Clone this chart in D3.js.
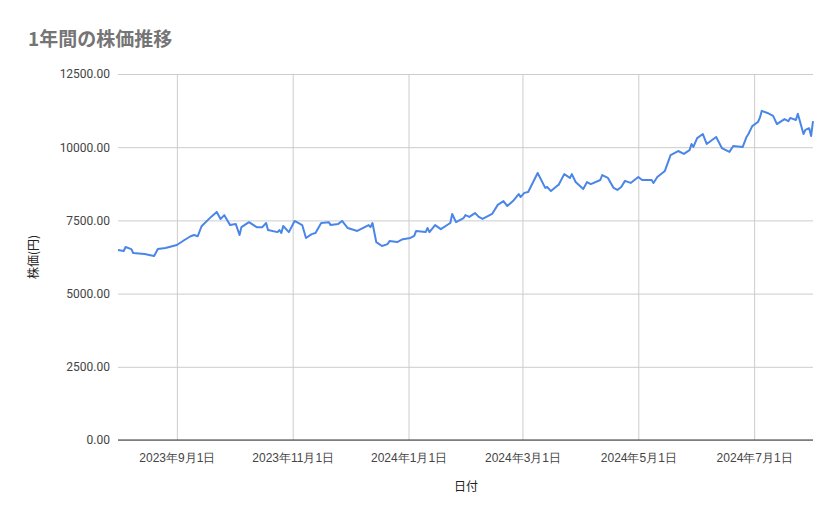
<!DOCTYPE html>
<html><head><meta charset="utf-8">
<script src="https://cdn.jsdelivr.net/npm/d3@7"></script>
<style>body{margin:0;background:#fff;font-family:"Noto Sans CJK JP","Noto Sans",sans-serif}</style>
</head><body><svg id="c" width="839" height="519"></svg>
<script>
const startDate = "2023-08-01";
const endDate = "2024-08-01";
const dayOffsets = [0,3,4,7,8,14,19,21,25,31,35,38,40,42,44,49,52,54,56,59,62,64,65,69,73,76,78,79,84,85,86,87,90,93,97,99,102,104,107,111,112,116,118,121,126,132,133,134,136,139,142,143,147,150,154,156,157,162,163,164,167,170,175,176,178,182,183,185,188,190,192,197,200,203,205,208,211,212,214,216,221,225,226,228,231,232,235,238,239,241,245,247,249,254,255,258,261,263,265,267,270,274,276,281,282,284,288,291,295,298,301,302,303,305,308,310,315,318,322,324,329,331,332,334,337,338,339,342,345,347,351,353,354,357,358,361,362,364,365,366];
const prices = [6490,6455,6590,6520,6385,6350,6285,6520,6560,6660,6830,6950,7000,6960,7300,7620,7790,7550,7680,7340,7380,7000,7270,7440,7270,7270,7410,7170,7100,7170,7070,7310,7100,7480,7340,6900,7030,7070,7410,7440,7340,7380,7480,7240,7140,7340,7270,7410,6760,6625,6690,6800,6760,6860,6900,6970,7140,7100,7240,7100,7340,7200,7410,7720,7440,7580,7680,7620,7750,7620,7550,7720,8030,8160,7990,8160,8400,8300,8440,8470,9120,8610,8640,8500,8670,8710,9080,8950,9080,8810,8570,8810,8740,8880,9050,8950,8610,8540,8640,8850,8780,8980,8880,8880,8780,8980,9190,9730,9870,9770,9900,10110,10010,10310,10450,10110,10350,9970,9840,10040,10010,10350,10450,10720,10860,11000,11240,11170,11070,10790,10960,10890,11000,10930,11140,10450,10590,10650,10380,10890];
const yTicks = [0,2500,5000,7500,10000,12500];
const xTickDates = ["2023-09-01","2023-11-01","2024-01-01","2024-03-01","2024-05-01","2024-07-01"];

const svg = d3.select("#c");
const L=118,R=813,T=74,B=440;
const parse = d3.timeParse("%Y-%m-%d");
const s0 = parse(startDate);
const data = dayOffsets.map((d,i)=>({date:d3.timeDay.offset(s0,d),v:prices[i]}));
const x = d3.scaleTime().domain([s0,parse(endDate)]).range([L,R]);
const y = d3.scaleLinear().domain([0,12500]).range([B,T]);

svg.append("text").attr("x",28).attr("y",46).attr("font-size",19).attr("font-weight","bold").attr("fill","#757575").text("1年間の株価推移");

const ya = svg.append("g").attr("transform",`translate(${L},0)`)
  .call(d3.axisLeft(y).tickValues(yTicks).tickSize(-(R-L)).tickFormat(d=>d.toFixed(2)));
ya.select(".domain").remove();
ya.selectAll("line").attr("stroke","#cccccc");
ya.selectAll("text").attr("x",-8).attr("font-size",12).attr("fill","#444").attr("font-family","Roboto,sans-serif");

const xa = svg.append("g").attr("transform",`translate(0,${B})`)
  .call(d3.axisBottom(x).tickValues(xTickDates.map(parse)).tickSize(-(B-T))
    .tickFormat(d=>`${d.getFullYear()}年${d.getMonth()+1}月${d.getDate()}日`));
xa.select(".domain").remove();
xa.selectAll("line").attr("stroke","#cccccc");
xa.selectAll("text").attr("y",13).attr("font-size",12).attr("fill","#444");

svg.append("line").attr("x1",L).attr("x2",R).attr("y1",B).attr("y2",B).attr("stroke","#333");

svg.append("path").datum(data).attr("fill","none").attr("stroke","#4a86e8").attr("stroke-width",2)
  .attr("stroke-linejoin","round")
  .attr("d",d3.line().x(d=>x(d.date)).y(d=>y(d.v)));

svg.append("text").attr("x",466).attr("y",491).attr("text-anchor","middle").attr("font-size",12).attr("fill","#222").text("日付");
svg.append("text").attr("transform","translate(38,257) rotate(-90)").attr("text-anchor","middle").attr("font-size",12).attr("fill","#222").text("株価(円)");
</script></body></html>
